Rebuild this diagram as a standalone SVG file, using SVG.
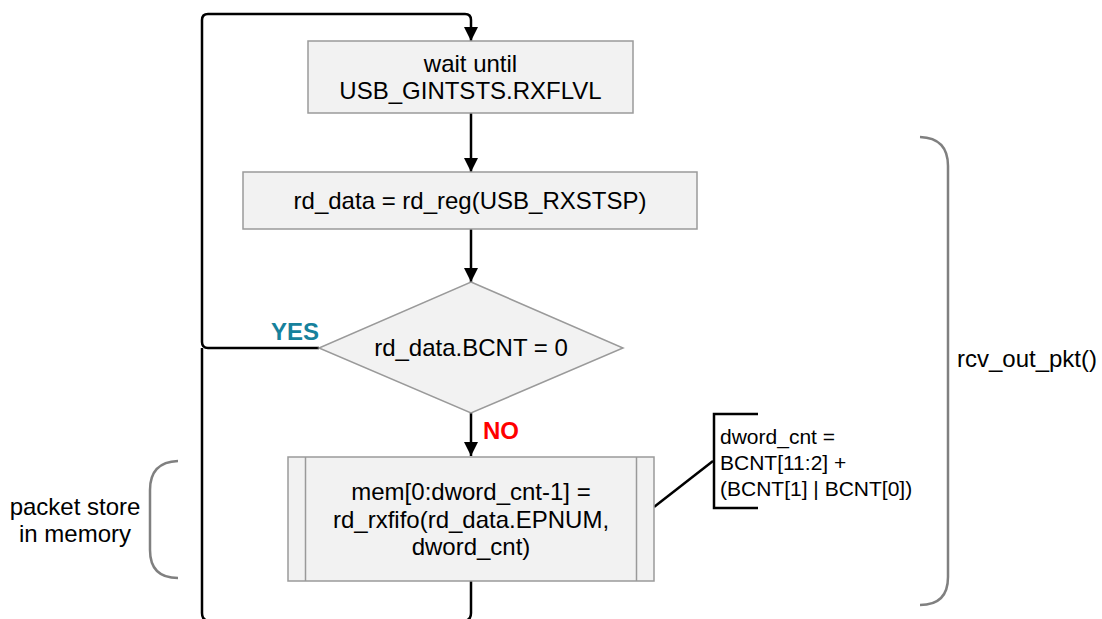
<svg xmlns="http://www.w3.org/2000/svg" width="1102" height="619" viewBox="0 0 1102 619">
<style>
.box{fill:#f2f2f2;stroke:#9a9a9a;stroke-width:1.5}
.t{font-family:"Liberation Sans",Arial,sans-serif;font-size:24px;fill:#000;text-anchor:middle}
.ts{font-family:"Liberation Sans",Arial,sans-serif;font-size:21px;fill:#000}
.c{fill:none;stroke:#000;stroke-width:2.5}
.br{fill:none;stroke:#808080;stroke-width:2.5}
</style>
<defs>
<marker id="ah" viewBox="0 0 10 10" refX="10" refY="5" markerWidth="5.6" markerHeight="5.6" orient="auto" markerUnits="strokeWidth">
<path d="M0,0 L10,5 L0,10 z" fill="#000"/>
</marker>
</defs>
<rect width="1102" height="619" fill="#fff"/>
<g id="connectors">
<path class="c" d="M319,348 H208 Q202,348 202,342 V20 Q202,14 208,14 H465 Q471,14 471,20 V41" marker-end="url(#ah)"/>
<path class="c" d="M471,581 V613 Q471,621 463,621 H210 Q202,621 202,613 V348"/>
<path class="c" d="M471,113 V172" marker-end="url(#ah)"/>
<path class="c" d="M471,229 V282" marker-end="url(#ah)"/>
<path class="c" d="M471,413 V456" marker-end="url(#ah)"/>
<path class="c" d="M654,507 L713,461"/>
</g>
<g id="wait">
<rect class="box" x="308" y="41" width="325" height="72"/>
<text class="t" x="470.5" y="72">wait until</text>
<text class="t" x="470.5" y="99">USB_GINTSTS.RXFLVL</text>
</g>
<g id="rdreg">
<rect class="box" x="243" y="172" width="454" height="57"/>
<text class="t" x="470" y="209">rd_data = rd_reg(USB_RXSTSP)</text>
</g>
<g id="decision">
<polygon class="box" points="471,282 623,348 471,413 319,348"/>
<text class="t" x="471" y="356">rd_data.BCNT = 0</text>
<text x="295" y="340" style="font-family:'Liberation Sans',Arial,sans-serif;font-size:24px;font-weight:bold;fill:#16819c;text-anchor:middle">YES</text>
<text x="483" y="439" style="font-family:'Liberation Sans',Arial,sans-serif;font-size:24px;font-weight:bold;fill:#ff0000">NO</text>
</g>
<g id="rxfifo">
<rect class="box" x="288" y="457" width="366" height="124"/>
<line x1="305.5" y1="457" x2="305.5" y2="581" stroke="#9a9a9a" stroke-width="1.5"/>
<line x1="636.5" y1="457" x2="636.5" y2="581" stroke="#9a9a9a" stroke-width="1.5"/>
<text class="t" x="471" y="500">mem[0:dword_cnt-1] =</text>
<text class="t" x="471" y="528">rd_rxfifo(rd_data.EPNUM,</text>
<text class="t" x="471" y="555">dword_cnt)</text>
</g>
<g id="note">
<path d="M758,414 H714 V508 H758" fill="none" stroke="#000" stroke-width="2.5"/>
<text class="ts" x="720" y="444">dword_cnt =</text>
<text class="ts" x="720" y="470">BCNT[11:2] +</text>
<text class="ts" x="720" y="496">(BCNT[1] | BCNT[0])</text>
</g>
<g id="packet-brace">
<path class="br" d="M178,461 Q150,462 150,490 V550 Q150,578 178,578"/>
<text class="t" x="75" y="515">packet store</text>
<text class="t" x="75" y="542">in memory</text>
</g>
<g id="func-brace">
<path class="br" d="M920,137 Q948,138 948,166 V577 Q948,605 920,605"/>
<text class="t" x="1027" y="367">rcv_out_pkt()</text>
</g>
</svg>
